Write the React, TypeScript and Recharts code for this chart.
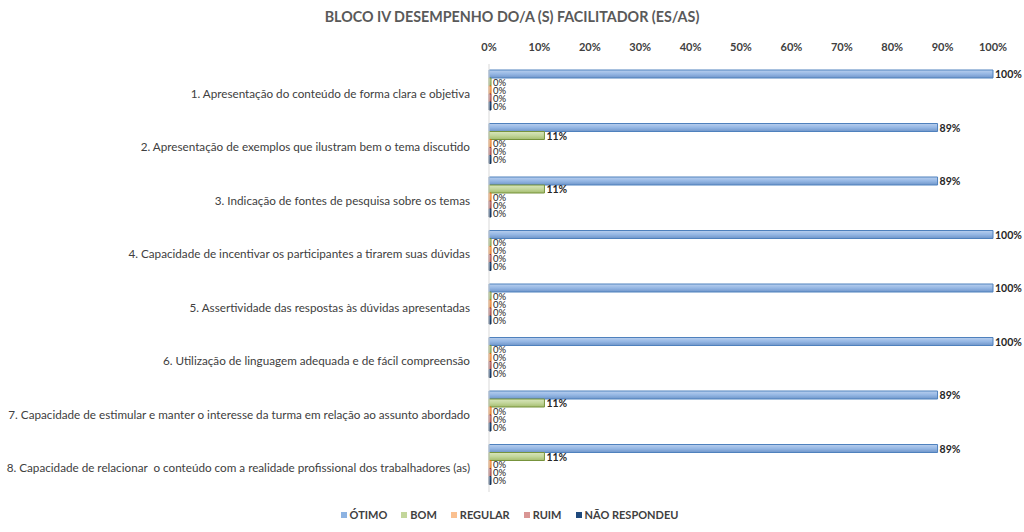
import React from "react";
import {
  BarChart, Bar, XAxis, YAxis, Legend, LabelList,
} from "recharts";

const categories = [
  "1. Apresentação do conteúdo de forma clara e objetiva",
  "2. Apresentação de exemplos que ilustram bem o tema discutido",
  "3. Indicação de fontes de pesquisa sobre os temas",
  "4. Capacidade de incentivar os participantes a tirarem suas dúvidas",
  "5. Assertividade das respostas às dúvidas apresentadas",
  "6. Utilização de linguagem adequada e de fácil compreensão",
  "7. Capacidade de estimular e manter o interesse da turma em relação ao assunto abordado",
  "8. Capacidade de relacionar  o conteúdo com a realidade profissional dos trabalhadores (as)",
];

const otimo = [1, 0.89, 0.89, 1, 1, 1, 0.89, 0.89];
const bom = [0, 0.11, 0.11, 0, 0, 0, 0.11, 0.11];
const regular = [0, 0, 0, 0, 0, 0, 0, 0];
const ruim = [0, 0, 0, 0, 0, 0, 0, 0];
const naoRespondeu = [0, 0, 0, 0, 0, 0, 0, 0];

const xTicks = [0, 0.1, 0.2, 0.3, 0.4, 0.5, 0.6, 0.7, 0.8, 0.9, 1];

const series = [
  { key: "otimo", name: "ÓTIMO", fill: "url(#gOtimo)", stroke: "#4f81bd", swatch: "#8db3e2" },
  { key: "bom", name: "BOM", fill: "url(#gBom)", stroke: "#77933c", swatch: "#c3d69b" },
  { key: "regular", name: "REGULAR", fill: "url(#gRegular)", stroke: "#e46c0a", swatch: "#fac090" },
  { key: "ruim", name: "RUIM", fill: "url(#gRuim)", stroke: "#953735", swatch: "#d99694" },
  { key: "nao", name: "NÃO RESPONDEU", fill: "url(#gNao)", stroke: "#17375e", swatch: "#1f497d" },
];

const data = categories.map((name, i) => ({
  name,
  otimo: otimo[i],
  bom: bom[i],
  regular: regular[i],
  ruim: ruim[i],
  nao: naoRespondeu[i],
}));

const FONT = "Lato, 'Open Sans', sans-serif";
const pct = (v: any) => `${Math.round(Number(v) * 100)}%`;

function grad(id: string, top: string, mid: string, bottom: string) {
  return (
    <linearGradient id={id} x1="0" y1="0" x2="0" y2="1">
      <stop offset="0%" stopColor={top} />
      <stop offset="50%" stopColor={mid} />
      <stop offset="100%" stopColor={bottom} />
    </linearGradient>
  );
}

// no wrapping for the long category names
function CategoryTick(props: any) {
  const { x, y, payload } = props;
  return (
    <text
      x={x - 11}
      y={y + 2}
      textAnchor="end"
      dominantBaseline="central"
      fontFamily={FONT}
      fontSize={11.7}
      fill="#404040"
      style={{ whiteSpace: "pre" }}
    >
      {payload.value}
    </text>
  );
}

// value labels: bold for non-zero, lighter and smaller for the 0% ones
function ValueLabel(props: any) {
  const { x, y, width, height, value } = props;
  const zero = Number(value) === 0;
  return (
    <text
      x={x + width + 2}
      y={y + height / 2}
      dominantBaseline="central"
      fontFamily={FONT}
      fontSize={zero ? 9.5 : 10.5}
      fontWeight={zero ? 400 : 700}
      fill="#262626"
    >
      {pct(value)}
    </text>
  );
}

function LegendContent() {
  return (
    <div style={{ display: "flex", justifyContent: "center", gap: 14, fontFamily: FONT, fontSize: 11, fontWeight: 700, color: "#404040", paddingLeft: 26 }}>
      {series.map((s) => (
        <div key={s.key} style={{ display: "flex", alignItems: "center", gap: 3 }}>
          <span style={{ width: 6, height: 6, background: s.swatch, display: "inline-block" }} />
          <span>{s.name}</span>
        </div>
      ))}
    </div>
  );
}

export default function App() {
  return (
    <div style={{ position: "absolute", left: 0, top: 0, width: 1024, height: 532, background: "#fff" }}>
      <div
        style={{
          position: "absolute", top: 8, left: 0, width: 1024, textAlign: "center",
          fontFamily: FONT, fontWeight: 700, fontSize: 14.3, color: "#595959",
        }}
      >
        BLOCO IV DESEMPENHO DO/A (S) FACILITADOR (ES/AS)
      </div>
      <BarChart
        width={1024}
        height={532}
        data={data}
        layout="vertical"
        margin={{ top: 44, right: 31, bottom: 16, left: 0 }}
        barCategoryGap={6}
        barGap={0}
      >
        <defs>
          {grad("gOtimo", "#b9cfee", "#95b7e4", "#6f95c9")}
          {grad("gBom", "#d9e6bd", "#c3d69b", "#a5bd6e")}
          {grad("gRegular", "#fcd4b2", "#fac090", "#e8a26a")}
          {grad("gRuim", "#e8b9b8", "#d99694", "#bf6e6c")}
          {grad("gNao", "#3d6aa3", "#1f497d", "#142f52")}
        </defs>
        <XAxis
          type="number"
          orientation="top"
          domain={[0, 1]}
          ticks={xTicks}
          tickFormatter={pct}
          axisLine={false}
          tickLine={false}
          height={20}
          interval={0}
          tick={{ fontFamily: FONT, fontSize: 11, fontWeight: 700, fill: "#404040", dy: -5 }}
        />
        <YAxis
          type="category"
          dataKey="name"
          width={489}
          axisLine={{ stroke: "#d9d9d9" }}
          tickLine={false}
          interval={0}
          tick={<CategoryTick />}
        />
        <Legend
          verticalAlign="bottom"
          height={24}
          wrapperStyle={{ bottom: 0 }}
          content={<LegendContent />}
        />
        {series.map((s) => (
          <Bar
            key={s.key}
            dataKey={s.key}
            name={s.name}
            fill={s.fill}
            stroke={s.stroke}
            strokeWidth={1}
            minPointSize={2}
            isAnimationActive={false}
          >
            <LabelList dataKey={s.key} content={<ValueLabel />} />
          </Bar>
        ))}
      </BarChart>
    </div>
  );
}
